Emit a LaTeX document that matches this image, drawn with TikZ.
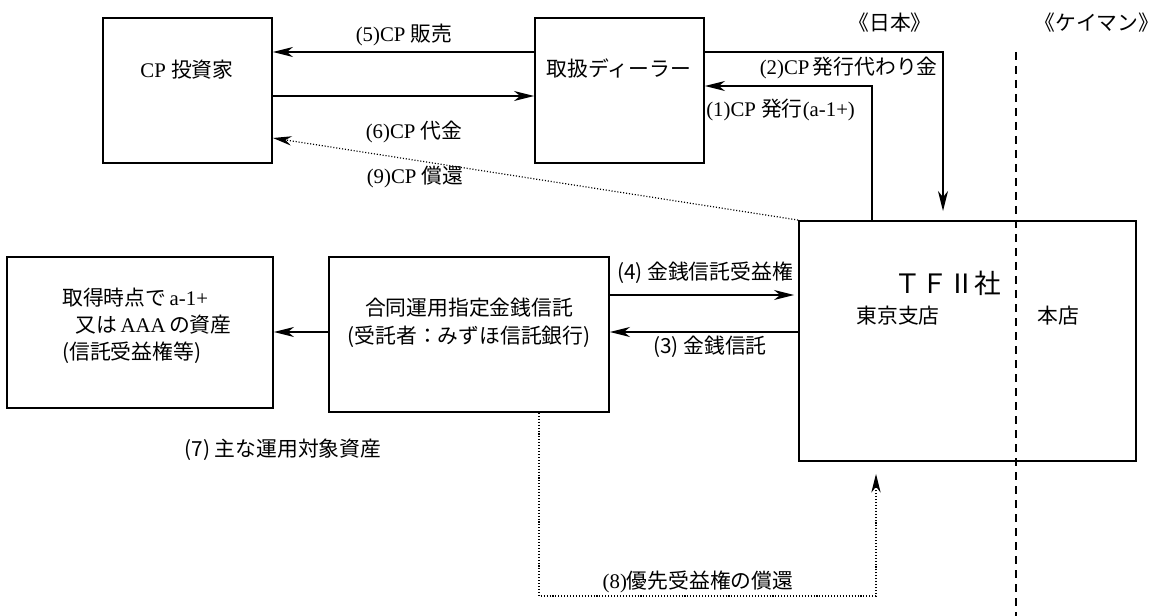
\documentclass[tikz,border=0pt]{standalone}
\usepackage{fontspec}
\setmainfont{Liberation Serif}
\newfontfamily\jp{Noto Sans CJK JP}
\usetikzlibrary{arrows.meta,fit}
\begin{document}
\begin{tikzpicture}[x=0.75pt,y=-0.75pt,
  box/.style={draw, line width=1.4pt, inner sep=0pt},
  arr/.style={line width=1.3pt, -{Stealth[length=15pt,width=7.5pt,inset=4.5pt]}},
  darr/.style={line width=0.9pt, dash pattern=on 0.8pt off 1.4pt, -{Stealth[length=14pt,width=7pt,inset=4.5pt]}},
  lbl/.style={inner sep=0pt, font=\fontsize{15.6pt}{20pt}\selectfont},
]
\useasboundingbox (0,0) rectangle (1169,616);
% helper coordinates
\coordinate (r5) at (0,52);
\coordinate (r6) at (0,96);
\coordinate (r9) at (0,138);
\coordinate (r1) at (0,86);
\coordinate (c1) at (872,0);
\coordinate (c2) at (943,0);
\coordinate (r4) at (0,295);
\coordinate (r3) at (0,332);
\coordinate (c8a) at (539,0);
\coordinate (c8b) at (876,0);
\coordinate (r8) at (0,596);
\coordinate (dtop) at (1016,52);
\coordinate (dbot) at (1016,616);
% boxes
\node[box, fit={(103,18) (272,163)}] (inv) {};
\node[box, fit={(535,18) (704,163)}] (dealer) {};
\node[box, fit={(7,257) (273,408)}] (asset) {};
\node[box, fit={(329,257) (609,412)}] (trust) {};
\node[box, fit={(799,221) (1136,461)}] (tf) {};
% box texts
\node[lbl] (invt) at (187,70) {CP {\jp 投資家}};
\node[lbl] (dealert) at (619,68) {{\jp 取扱ディーラー}};
\node[lbl, align=left, anchor=west, font=\fontsize{15.6pt}{20.3pt}\selectfont] (assett) at (62,326)
  {{\jp 取得時点で}\,a-1+\\\hspace{10pt}{\jp 又は}\,AAA\,{\jp の資産}\\{\jp (信託受益権等)}};
\node[lbl, align=center, font=\fontsize{15.6pt}{21pt}\selectfont] (trustt) at (469,323)
  {{\jp 合同運用指定金銭信託}\\{\jp (受託者：みずほ信託銀行)}};
\node[lbl, font=\fontsize{20pt}{24pt}\selectfont] (tft) at (948,283) {{\jp ＴＦⅡ社}};
\node[lbl] (tokyo) at (898,316) {{\jp 東京支店}};
\node[lbl] (honten) at (1058,316) {{\jp 本店}};
\node[lbl] (japan) at (890,23) {{\jp 《日本》}};
\node[lbl] (cayman) at (1097,23) {{\jp 《ケイマン》}};
% dashed border
\draw[line width=1.5pt, dash pattern=on 6pt off 4.5pt] (dtop) -- (dbot);
% connectors
\draw[arr] (dealer.west |- r5) -- (inv.east |- r5);
\draw[arr] (inv.east |- r6) -- (dealer.west |- r6);
\draw[darr] (tf.north west) -- (inv.east |- r9);
\draw[arr, shorten >=6.75pt] (dealer.east |- r5) -| (tf.north -| c2);
\draw[arr] (tf.north -| c1) |- (dealer.east |- r1);
\draw[arr, shorten >=3pt] (trust.east |- r4) -- (tf.west |- r4);
\draw[arr] (tf.west |- r3) -- (trust.east |- r3);
\draw[arr] (trust.west |- r3) -- (asset.east |- r3);
\draw[darr, shorten >=9pt] (trust.south -| c8a) |- (r8 -| c8b) -- (tf.south -| c8b);
% connector labels
\node[lbl] (l5) at (404,35) {(5)CP {\jp 販売}};
\node[lbl] (l6) at (414,132) {(6)CP {\jp 代金}};
\node[lbl] (l9) at (415,177) {(9)CP {\jp 償還}};
\node[lbl, anchor=east] (l2) at (938,68) {(2)CP\,{\jp 発行代わり金}};
\node[lbl, anchor=west] (l1) at (706,110) {(1)CP {\jp 発行}(a-1+)};
\node[lbl] (l4) at (705,273) {{\jp (4) 金銭信託受益権}};
\node[lbl] (l3) at (710,347) {{\jp (3) 金銭信託}};
\node[lbl] (l7) at (283,450) {{\jp (7) 主な運用対象資産}};
\node[lbl] (l8) at (698,582) {(8){\jp 優先受益権の償還}};
\end{tikzpicture}
\end{document}
